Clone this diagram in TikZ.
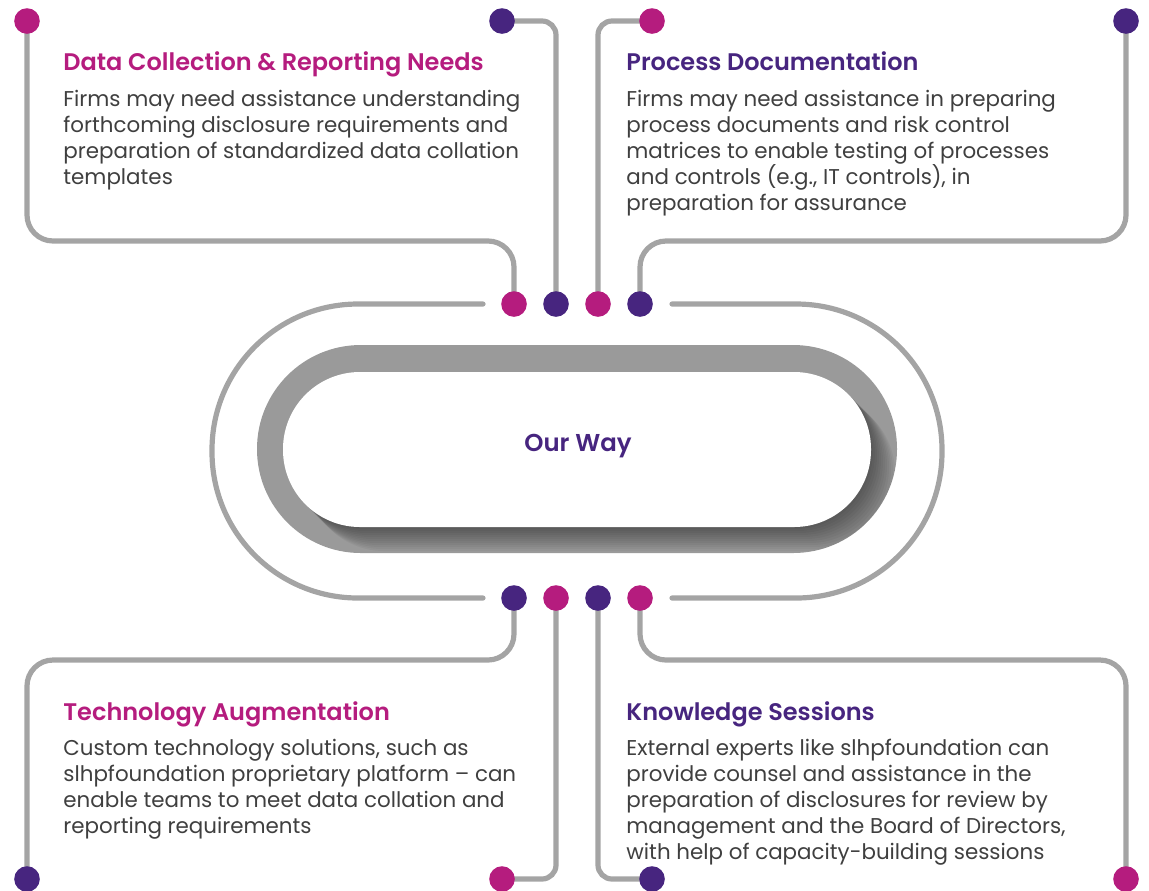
\documentclass[tikz,border=0pt]{standalone}
\usepackage{fontspec}
\setmainfont{Poppins}
\newfontfamily\headfont{Poppins SemiBold}
\usetikzlibrary{backgrounds}
\definecolor{cpink}{HTML}{B51C7E}
\definecolor{cpurple}{HTML}{47257F}
\definecolor{cwire}{HTML}{A4A4A4}
\definecolor{ctext}{HTML}{3F3F3F}
\definecolor{cring}{HTML}{9A9A9A}
\tikzset{
  wire/.style={draw=cwire, line width=2.6pt, line cap=round},
  dot/.style={circle, inner sep=0pt, minimum size=12.8pt},
  pdot/.style={dot, fill=cpink},
  udot/.style={dot, fill=cpurple},
  head/.style={font=\headfont\fontsize{12}{14}\selectfont, anchor=base west, inner sep=0pt},
  body/.style={font=\fontsize{10.7}{13}\selectfont, text=ctext, align=left, anchor=north west, inner sep=0pt},
}

\begin{document}
\begin{tikzpicture}[x=0.5pt,y=-0.5pt]
\useasboundingbox (0,0) rectangle (1149,890);
% ---------------- centre pill
\fill[cring, rounded corners=51.9pt] (257,345) rectangle (897,553);
\begin{scope}
\clip[rounded corners=51.9pt] (257,345) rectangle (897,553);
\foreach \k in {1,...,12}
  \fill[black, opacity=.04, rounded corners=38.5pt, shift={(\k*2,\k*2)}] (283,372) rectangle (871,527);
\end{scope}
\fill[white, rounded corners=38.5pt] (283,372) rectangle (871,527);
\node[font=\headfont\fontsize{12.2}{14}\selectfont, text=cpurple] (way) at (578,446) {Our Way};
% ---------------- track round the pill
\draw[wire, rounded corners=73pt] (483,304) -- (212,304) -- (212,598) -- (483,598);
\draw[wire, rounded corners=73pt] (672,304) -- (942,304) -- (942,598) -- (672,598);
% ---------------- dots
\foreach \n/\x/\s in {1/27/pdot, 2/502/udot, 3/652/pdot, 4/1126/udot}
  \node[\s] (a\n) at (\x,21) {};
\foreach \n/\x/\s in {1/514/pdot, 2/556/udot, 3/598/pdot, 4/640/udot}
  \node[\s] (b\n) at (\x,304) {};
\foreach \n/\x/\s in {1/514/udot, 2/556/pdot, 3/598/udot, 4/640/pdot}
  \node[\s] (c\n) at (\x,598) {};
\foreach \n/\x/\s in {1/27/udot, 2/502/pdot, 3/652/udot, 4/1126/pdot}
  \node[\s] (e\n) at (\x,879) {};
% ---------------- wires, kept under the dots
\begin{scope}[on background layer]
\draw[wire, rounded corners=13pt] (a1.center) |- (270,241) -| (b1.center);
\draw[wire, rounded corners=7pt] (a2.center) -| (b2.center);
\draw[wire, rounded corners=7pt] (a3.center) -| (b3.center);
\draw[wire, rounded corners=13pt] (a4.center) |- (880,241) -| (b4.center);
\draw[wire, rounded corners=13pt] (c1.center) |- (270,660) -| (e1.center);
\draw[wire, rounded corners=7pt] (c2.center) |- (e2.center);
\draw[wire, rounded corners=7pt] (c3.center) |- (e3.center);
\draw[wire, rounded corners=13pt] (c4.center) |- (880,660) -| (e4.center);
\end{scope}
% ---------------- texts
\node[head, text=cpink] (h1) at (63,70) {Data Collection \& Reporting Needs};
\node[body] (p1) at (63,90) {Firms may need assistance understanding\\forthcoming disclosure requirements and\\preparation of standardized data collation\\templates};
\node[head, text=cpurple] (h2) at (626,70) {Process Documentation};
\node[body] (p2) at (626,90) {Firms may need assistance in preparing\\process documents and risk control\\matrices to enable testing of processes\\and controls (e.g., IT controls), in\\preparation for assurance};
\node[head, text=cpink] (h3) at (63,720) {Technology Augmentation};
\node[body] (p3) at (63,739) {Custom technology solutions, such as\\slhpfoundation proprietary platform -- can\\enable teams to meet data collation and\\reporting requirements};
\node[head, text=cpurple] (h4) at (626,720) {Knowledge Sessions};
\node[body] (p4) at (626,739) {External experts like slhpfoundation can\\provide counsel and assistance in the\\preparation of disclosures for review by\\management and the Board of Directors,\\with help of capacity-building sessions};
\end{tikzpicture}
\end{document}
